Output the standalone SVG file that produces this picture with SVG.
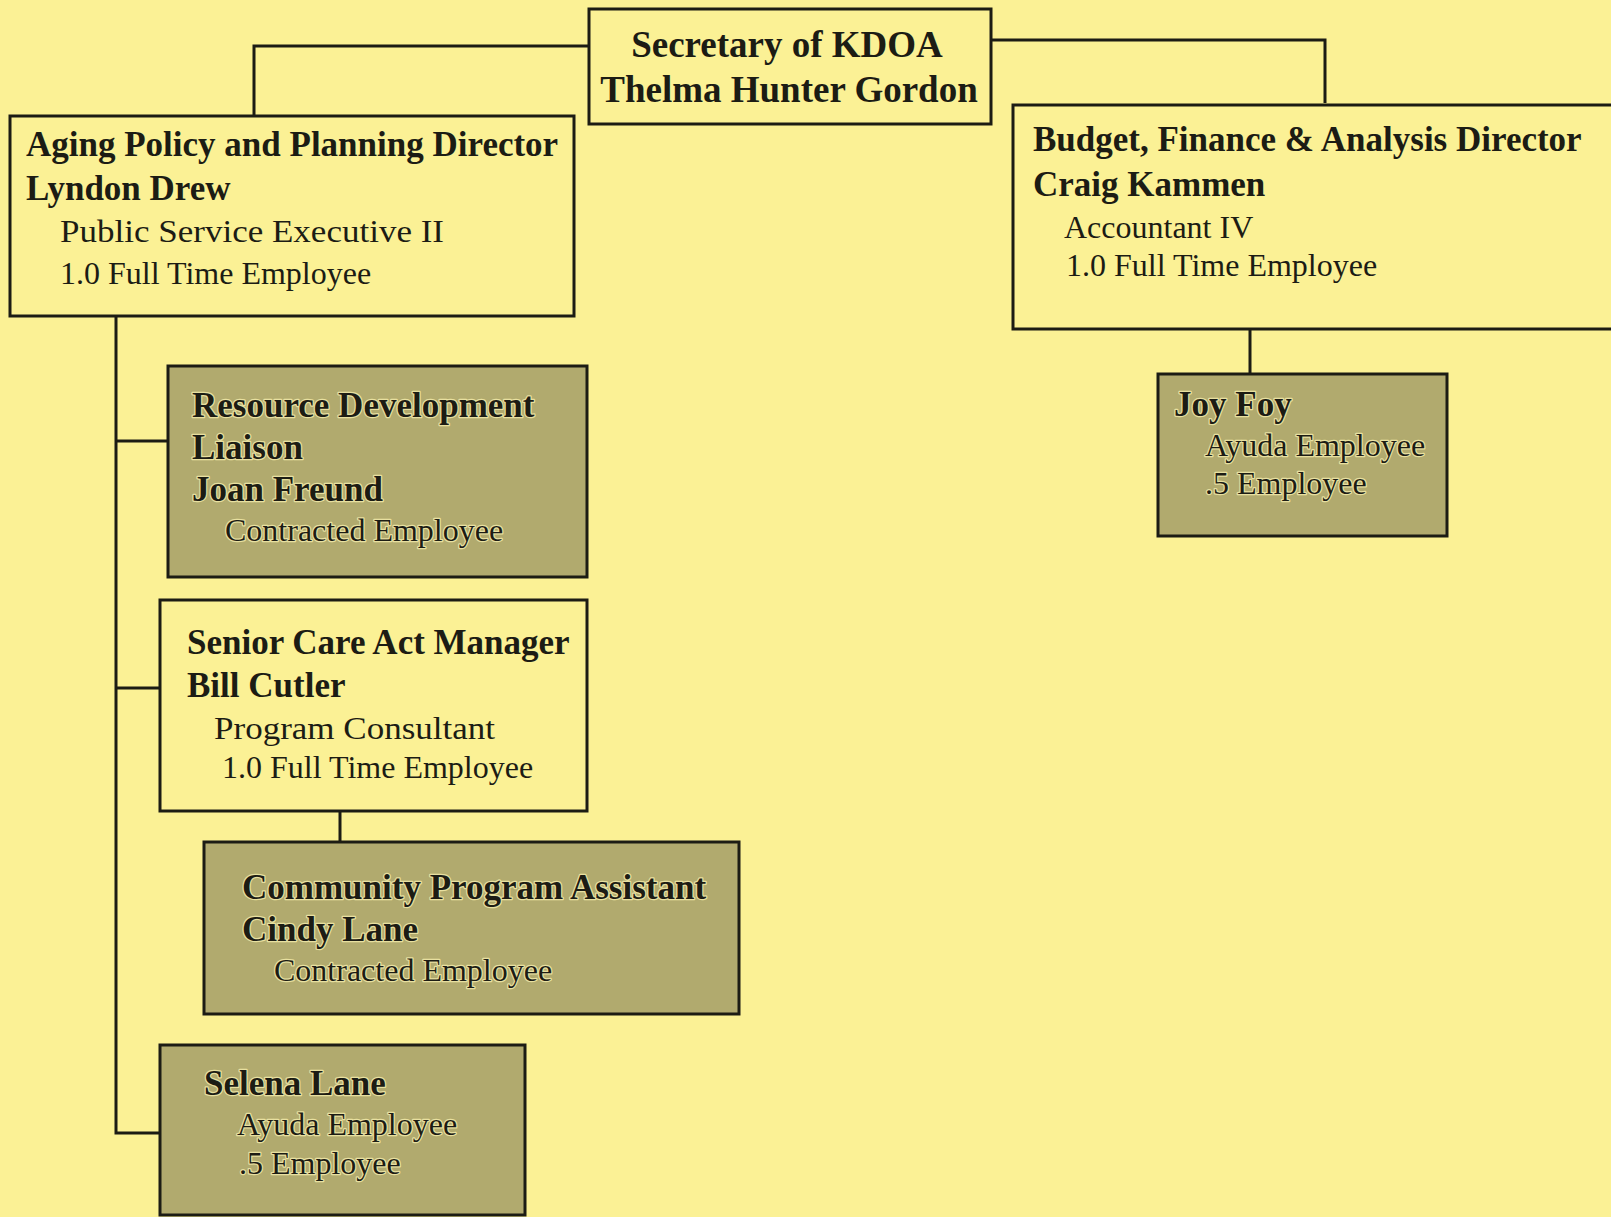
<svg xmlns="http://www.w3.org/2000/svg" width="1611" height="1217" viewBox="0 0 1611 1217">
<style>
.bg{fill:#fbf195}
.box{fill:#fbf195;stroke:#1c1c14;stroke-width:3}
.shade{fill:#b1aa6e;stroke:#1c1c14;stroke-width:3}
.conn{fill:none;stroke:#1c1c14;stroke-width:3}
text{font-family:"Liberation Serif","Times New Roman",serif;fill:#1c1c14}
.b{font-weight:bold;font-size:35px}
.r{font-size:32px}
.t{font-weight:bold;font-size:37px}
.halo{paint-order:stroke;stroke:#e8e0a0;stroke-width:2.5px;stroke-linejoin:round}
</style>
<rect class="bg" x="0" y="0" width="1611" height="1217"/>
<g id="connectors">
<polyline class="conn" points="589,46 254,46 254,116"/>
<polyline class="conn" points="991,40 1325,40 1325,103"/>
<line class="conn" x1="1250" y1="328" x2="1250" y2="374"/>
<polyline class="conn" points="116,316 116,1133 160,1133"/>
<line class="conn" x1="116" y1="441" x2="168" y2="441"/>
<line class="conn" x1="116" y1="688" x2="160" y2="688"/>
<line class="conn" x1="340" y1="811" x2="340" y2="842"/>
</g>
<g id="secretary">
<rect class="box" x="589" y="9" width="402" height="115"/>
<text class="t" x="787" y="57" text-anchor="middle">Secretary of KDOA</text>
<text class="t" x="789" y="102" text-anchor="middle">Thelma Hunter Gordon</text>
</g>
<g id="aging">
<rect class="box" x="10" y="116" width="564" height="200"/>
<text class="b" x="26" y="156">Aging Policy and Planning Director</text>
<text class="b" x="26" y="200">Lyndon Drew</text>
<text class="r" x="60" y="242" textLength="384" lengthAdjust="spacingAndGlyphs">Public Service Executive II</text>
<text class="r" x="60" y="284">1.0 Full Time Employee</text>
</g>
<g id="budget">
<rect class="box" x="1013" y="105" width="620" height="224"/>
<text class="b" x="1033" y="151">Budget, Finance &amp; Analysis Director</text>
<text class="b" x="1033" y="196">Craig Kammen</text>
<text class="r" x="1064" y="238">Accountant IV</text>
<text class="r" x="1066" y="276">1.0 Full Time Employee</text>
</g>
<g id="joy">
<rect class="shade" x="1158" y="374" width="289" height="162"/>
<text class="b halo" x="1174" y="416">Joy Foy</text>
<text class="r halo" x="1205" y="456">Ayuda Employee</text>
<text class="r halo" x="1205" y="494">.5 Employee</text>
</g>
<g id="resource">
<rect class="shade" x="168" y="366" width="419" height="211"/>
<text class="b halo" x="192" y="417">Resource Development</text>
<text class="b halo" x="192" y="459">Liaison</text>
<text class="b halo" x="192" y="501">Joan Freund</text>
<text class="r halo" x="225" y="541">Contracted Employee</text>
</g>
<g id="senior">
<rect class="box" x="160" y="600" width="427" height="211"/>
<text class="b" x="187" y="654">Senior Care Act Manager</text>
<text class="b" x="187" y="697">Bill Cutler</text>
<text class="r" x="214" y="739" textLength="281" lengthAdjust="spacingAndGlyphs">Program Consultant</text>
<text class="r" x="222" y="778">1.0 Full Time Employee</text>
</g>
<g id="community">
<rect class="shade" x="204" y="842" width="535" height="172"/>
<text class="b halo" x="242" y="899">Community Program Assistant</text>
<text class="b halo" x="242" y="941">Cindy Lane</text>
<text class="r halo" x="274" y="981">Contracted Employee</text>
</g>
<g id="selena">
<rect class="shade" x="160" y="1045" width="365" height="170"/>
<text class="b halo" x="204" y="1095">Selena Lane</text>
<text class="r halo" x="237" y="1135">Ayuda Employee</text>
<text class="r halo" x="239" y="1174">.5 Employee</text>
</g>
</svg>
